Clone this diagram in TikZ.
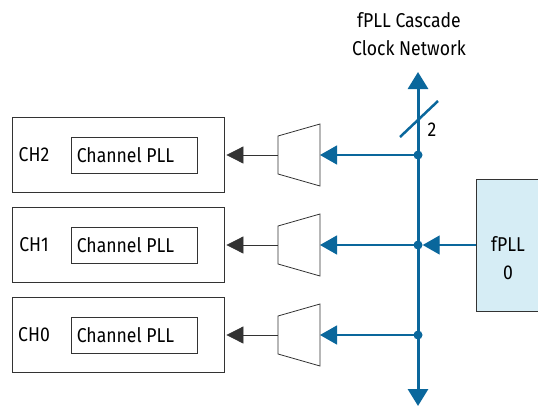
\documentclass[tikz,border=0pt]{standalone}
\usepackage{fontspec}
\setmainfont{Fira Sans}[FakeStretch=0.88]
\usetikzlibrary{arrows.meta}
\definecolor{busblue}{HTML}{0A679C}
\definecolor{pllfill}{HTML}{D6EDF5}
\begin{document}
\begin{tikzpicture}[x=1pt,y=-1pt,
  chbox/.style={draw=black!80, line width=0.8pt, minimum width=212pt, minimum height=75pt, inner sep=0pt},
  inbox/.style={draw=black!80, line width=0.8pt, minimum width=126pt, minimum height=36pt, inner sep=0pt},
  lbl/.style={font=\fontsize{20}{24}\selectfont, inner sep=0pt},
  muxshape/.style={draw=black!80, line width=0.8pt},
  dot/.style={circle, fill=busblue, inner sep=0pt, minimum size=9pt},
  bluearr/.style={draw=busblue, line width=1.3pt, -{Triangle[length=17pt,width=19pt]}},
  blackarr/.style={draw=black!80, line width=0.8pt, -{Triangle[length=17pt,width=17pt]}},
  busline/.style={draw=busblue, line width=3pt}]
\useasboundingbox (0,0) rectangle (538,408);
\clip (0,0) rectangle (538,408);
% title
\node[lbl, align=center] (title) at (409,34) {fPLL Cascade\\[4pt]Clock Network};
% bus
\coordinate (bustop) at (418,72);
\coordinate (busbot) at (418,406);
\draw[busline, {Triangle[length=17pt,width=20pt]}-{Triangle[length=17pt,width=20pt]}] (busbot) -- (bustop);
\draw[busblue, line width=2.5pt] (400,137) -- (438,101);
\node[lbl] (two) at (432,130) {2};
% fPLL
\node[draw=black!80, fill=pllfill, line width=0.8pt, minimum width=70pt, minimum height=132pt, anchor=north west, inner sep=0pt] (fpll) at (476,179) {};
\node[lbl, align=center] (fplltxt) at (508,258) {fPLL\\[4pt]0};
% rows
\foreach \n/\c in {2/155,1/245,0/335}{
  \node[chbox] (ch\n) at (118,\c) {};
  \node[lbl] (chl\n) at (34,\c) {CH\n};
  \node[inbox] (pll\n) at (134,\c) {};
  \node[lbl, anchor=west] (pllt\n) at ([xshift=6pt]pll\n.west) {Channel PLL};
  \draw[muxshape] (278,\c-19) -- (320,\c-31) -- (320,\c+31) -- (278,\c+19) -- cycle;
  \coordinate (muxl\n) at (278,\c);
  \coordinate (muxr\n) at (320,\c);
  \node[dot] (d\n) at (418,\c) {};
  \draw[bluearr] (d\n.center) -- (muxr\n);
  \draw[blackarr] (muxl\n) -- ([xshift=2pt]ch\n.east);
}
\draw[bluearr] (fpll.west |- d1) -- (d1.east);
\end{tikzpicture}
\end{document}
